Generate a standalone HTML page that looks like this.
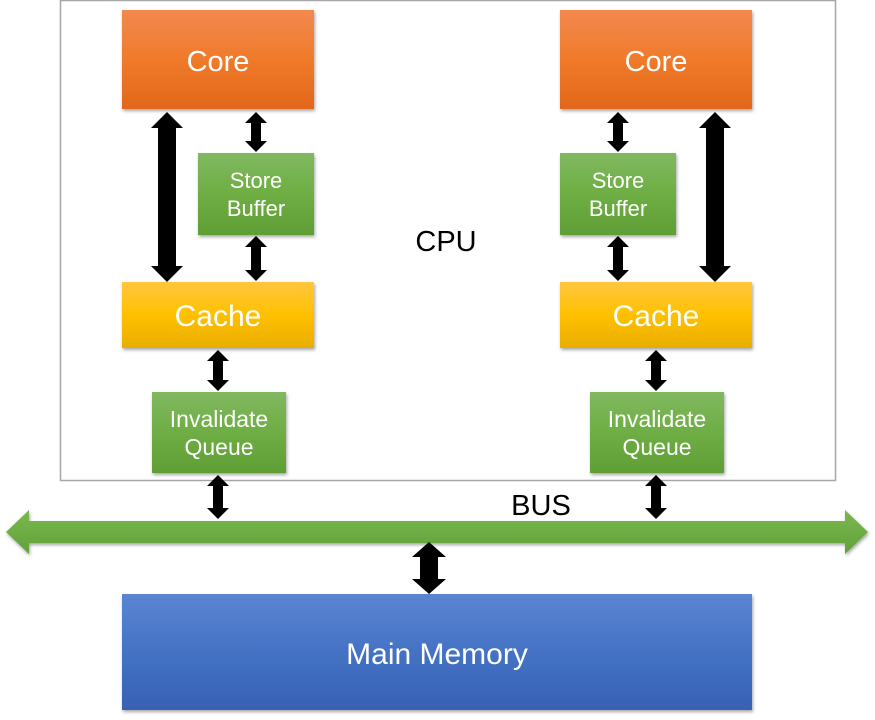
<!DOCTYPE html>
<html><head><style>
html,body{margin:0;padding:0;background:#fff;}
svg{display:block;}
text{font-family:"Liberation Sans",Arial,sans-serif;}
</style></head><body>
<svg width="875" height="720" viewBox="0 0 875 720" xmlns="http://www.w3.org/2000/svg">
<defs>
<linearGradient id="or" x1="0" y1="0" x2="0" y2="1"><stop offset="0" stop-color="#f2894f"/><stop offset="0.5" stop-color="#f07a2a"/><stop offset="1" stop-color="#e2661a"/></linearGradient>
<linearGradient id="gr" x1="0" y1="0" x2="0" y2="1"><stop offset="0" stop-color="#80b860"/><stop offset="0.5" stop-color="#6eae44"/><stop offset="1" stop-color="#5f9e35"/></linearGradient>
<linearGradient id="ye" x1="0" y1="0" x2="0" y2="1"><stop offset="0" stop-color="#ffc640"/><stop offset="0.5" stop-color="#ffc000"/><stop offset="1" stop-color="#e8ae00"/></linearGradient>
<linearGradient id="bl" x1="0" y1="0" x2="0" y2="1"><stop offset="0" stop-color="#5b85d2"/><stop offset="0.5" stop-color="#4472c4"/><stop offset="1" stop-color="#3761b4"/></linearGradient>
<linearGradient id="bus" x1="0" y1="0" x2="0" y2="1"><stop offset="0" stop-color="#7ab84f"/><stop offset="1" stop-color="#62a03a"/></linearGradient>
<filter id="sh" x="-10%" y="-10%" width="125%" height="130%"><feDropShadow dx="1" dy="2" stdDeviation="1.5" flood-color="#000" flood-opacity="0.35"/></filter>
</defs>
<rect x="60.5" y="0.5" width="775" height="480" fill="#fff" stroke="#a6a6a6" stroke-width="1.5"/>

<polygon filter="url(#sh)" fill="url(#bus)" points="6,532 29,510 29,521 845,521 845,510 868,532 845,554 845,543 29,543 29,554"/>

<g filter="url(#sh)">
<rect x="122" y="10" width="192" height="99" fill="url(#or)"/>
<rect x="560" y="10" width="192" height="99" fill="url(#or)"/>
<rect x="198" y="153" width="116" height="82" fill="url(#gr)"/>
<rect x="560" y="153" width="116" height="82" fill="url(#gr)"/>
<rect x="122" y="282" width="192" height="66" fill="url(#ye)"/>
<rect x="560" y="282" width="192" height="66" fill="url(#ye)"/>
<rect x="152" y="392" width="134" height="81" fill="url(#gr)"/>
<rect x="590" y="392" width="134" height="81" fill="url(#gr)"/>
<rect x="122" y="594" width="630" height="116" fill="url(#bl)"/>
</g>

<g fill="#000">
<polygon points="167,112 183,128 176,128 176,266 183,266 167,282 151,266 158,266 158,128 151,128"/>
<polygon points="715,112 731,128 724,128 724,266 731,266 715,282 699,266 706,266 706,128 699,128"/>
<polygon points="256,112 267,123 261,123 261,141 267,141 256,152 245,141 251,141 251,123 245,123"/>
<polygon points="256,236 267,247 261,247 261,270 267,270 256,281 245,270 251,270 251,247 245,247"/>
<polygon points="618,112 629,123 623,123 623,141 629,141 618,152 607,141 613,141 613,123 607,123"/>
<polygon points="618,236 629,247 623,247 623,270 629,270 618,281 607,270 613,270 613,247 607,247"/>
<polygon points="218,350 229,361 223,361 223,380 229,380 218,391 207,380 213,380 213,361 207,361"/>
<polygon points="656,350 667,361 661,361 661,380 667,380 656,391 645,380 651,380 651,361 645,361"/>
<polygon points="218,475 229,486 223,486 223,508 229,508 218,519 207,508 213,508 213,486 207,486"/>
<polygon points="656,475 667,486 661,486 661,508 667,508 656,519 645,508 651,508 651,486 645,486"/>
<polygon points="429,542 446,557 438,557 438,579 446,579 429,594 412,579 420,579 420,557 412,557"/>
</g>

<g fill="#fff" text-anchor="middle">
<text x="218" y="71" font-size="29">Core</text>
<text x="656" y="71" font-size="29">Core</text>
<text x="256" y="188" font-size="22">Store</text>
<text x="256" y="216" font-size="22">Buffer</text>
<text x="618" y="188" font-size="22">Store</text>
<text x="618" y="216" font-size="22">Buffer</text>
<text x="218" y="326" font-size="30">Cache</text>
<text x="656" y="326" font-size="30">Cache</text>
<text x="219" y="427" font-size="23">Invalidate</text>
<text x="219" y="455" font-size="23">Queue</text>
<text x="657" y="427" font-size="23">Invalidate</text>
<text x="657" y="455" font-size="23">Queue</text>
<text x="437" y="664" font-size="30">Main Memory</text>
</g>
<text x="446" y="251" font-size="29" text-anchor="middle" fill="#000">CPU</text>
<text x="541" y="515" font-size="29" text-anchor="middle" fill="#000">BUS</text>
</svg>
</body></html>
